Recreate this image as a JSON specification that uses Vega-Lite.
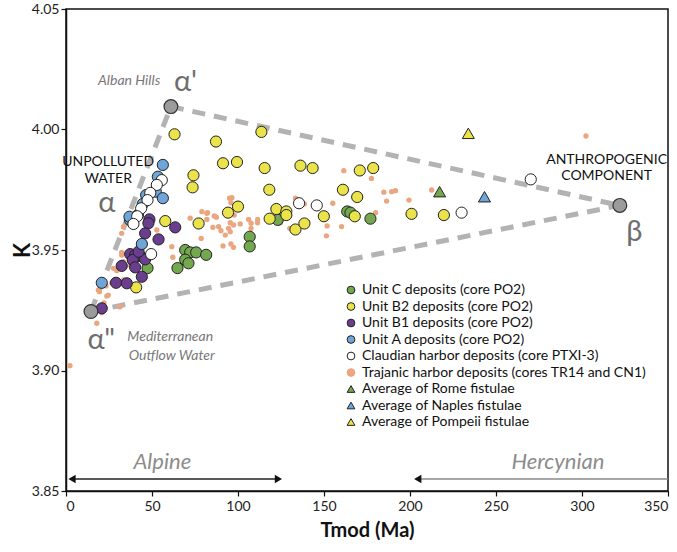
{
  "$schema": "https://vega.github.io/schema/vega-lite/v6.json",
  "width": 602,
  "height": 482,
  "autosize": "none",
  "padding": {"left": 66, "top": 9, "right": 9, "bottom": 61},
  "background": "white",
  "config": {
    "font": "Lato",
    "view": {"stroke": "#111", "strokeWidth": 1.5},
    "axis": {"grid": false, "domainColor": "#111", "domainWidth": 1.5, "tickColor": "#111", "tickSize": 5, "tickWidth": 1.2, "labelFont": "Lato", "labelFontSize": 14, "labelColor": "#222", "titleFont": "Lato", "titleColor": "#111", "titleFontWeight": "bold"},
    "legend": {"labelFont": "Lato", "labelFontSize": 14, "labelColor": "#111", "symbolSize": 60, "symbolStrokeWidth": 1, "rowPadding": 2.5, "labelLimit": 400}
  },
  "datasets": {
    "units": [
      {"series": "Unit C deposits (core PO2)", "x": 69.3, "y": 3.950},
      {"series": "Unit C deposits (core PO2)", "x": 72.2, "y": 3.949},
      {"series": "Unit C deposits (core PO2)", "x": 75.7, "y": 3.949},
      {"series": "Unit C deposits (core PO2)", "x": 81.5, "y": 3.948},
      {"series": "Unit C deposits (core PO2)", "x": 69.3, "y": 3.946},
      {"series": "Unit C deposits (core PO2)", "x": 71.2, "y": 3.9445},
      {"series": "Unit C deposits (core PO2)", "x": 64.8, "y": 3.9425},
      {"series": "Unit C deposits (core PO2)", "x": 106.8, "y": 3.9555},
      {"series": "Unit C deposits (core PO2)", "x": 106.8, "y": 3.9515},
      {"series": "Unit C deposits (core PO2)", "x": 47.4, "y": 3.9425},
      {"series": "Unit C deposits (core PO2)", "x": 123.1, "y": 3.9625},
      {"series": "Unit C deposits (core PO2)", "x": 163.5, "y": 3.966},
      {"series": "Unit C deposits (core PO2)", "x": 165.4, "y": 3.9655},
      {"series": "Unit C deposits (core PO2)", "x": 177.0, "y": 3.963},
      {"series": "Unit B2 deposits (core PO2)", "x": 63.1, "y": 3.998},
      {"series": "Unit B2 deposits (core PO2)", "x": 87.2, "y": 3.995},
      {"series": "Unit B2 deposits (core PO2)", "x": 113.6, "y": 3.999},
      {"series": "Unit B2 deposits (core PO2)", "x": 91.3, "y": 3.986},
      {"series": "Unit B2 deposits (core PO2)", "x": 99.4, "y": 3.9865},
      {"series": "Unit B2 deposits (core PO2)", "x": 115.5, "y": 3.984},
      {"series": "Unit B2 deposits (core PO2)", "x": 136.3, "y": 3.985},
      {"series": "Unit B2 deposits (core PO2)", "x": 143.4, "y": 3.984},
      {"series": "Unit B2 deposits (core PO2)", "x": 170.8, "y": 3.983},
      {"series": "Unit B2 deposits (core PO2)", "x": 178.6, "y": 3.984},
      {"series": "Unit B2 deposits (core PO2)", "x": 74.1, "y": 3.981},
      {"series": "Unit B2 deposits (core PO2)", "x": 73.6, "y": 3.976},
      {"series": "Unit B2 deposits (core PO2)", "x": 118.2, "y": 3.975},
      {"series": "Unit B2 deposits (core PO2)", "x": 161.0, "y": 3.975},
      {"series": "Unit B2 deposits (core PO2)", "x": 169.3, "y": 3.972},
      {"series": "Unit B2 deposits (core PO2)", "x": 100.0, "y": 3.968},
      {"series": "Unit B2 deposits (core PO2)", "x": 94.2, "y": 3.9655},
      {"series": "Unit B2 deposits (core PO2)", "x": 122.3, "y": 3.967},
      {"series": "Unit B2 deposits (core PO2)", "x": 128.1, "y": 3.966},
      {"series": "Unit B2 deposits (core PO2)", "x": 128.1, "y": 3.9645},
      {"series": "Unit B2 deposits (core PO2)", "x": 118.4, "y": 3.963},
      {"series": "Unit B2 deposits (core PO2)", "x": 133.4, "y": 3.9585},
      {"series": "Unit B2 deposits (core PO2)", "x": 138.6, "y": 3.961},
      {"series": "Unit B2 deposits (core PO2)", "x": 77.1, "y": 3.961},
      {"series": "Unit B2 deposits (core PO2)", "x": 57.7, "y": 3.962},
      {"series": "Unit B2 deposits (core PO2)", "x": 40.8, "y": 3.9345},
      {"series": "Unit B2 deposits (core PO2)", "x": 149.9, "y": 3.964},
      {"series": "Unit B2 deposits (core PO2)", "x": 167.9, "y": 3.964},
      {"series": "Unit B2 deposits (core PO2)", "x": 200.9, "y": 3.965},
      {"series": "Unit B2 deposits (core PO2)", "x": 219.7, "y": 3.9645},
      {"series": "Unit B1 deposits (core PO2)", "x": 48.5, "y": 3.9627},
      {"series": "Unit B1 deposits (core PO2)", "x": 47.9, "y": 3.9611},
      {"series": "Unit B1 deposits (core PO2)", "x": 63.5, "y": 3.9594},
      {"series": "Unit B1 deposits (core PO2)", "x": 46.0, "y": 3.9569},
      {"series": "Unit B1 deposits (core PO2)", "x": 53.8, "y": 3.9544},
      {"series": "Unit B1 deposits (core PO2)", "x": 37.3, "y": 3.9483},
      {"series": "Unit B1 deposits (core PO2)", "x": 40.2, "y": 3.9479},
      {"series": "Unit B1 deposits (core PO2)", "x": 43.1, "y": 3.9475},
      {"series": "Unit B1 deposits (core PO2)", "x": 46.0, "y": 3.9461},
      {"series": "Unit B1 deposits (core PO2)", "x": 38.8, "y": 3.9459},
      {"series": "Unit B1 deposits (core PO2)", "x": 32.4, "y": 3.9434},
      {"series": "Unit B1 deposits (core PO2)", "x": 40.2, "y": 3.9428},
      {"series": "Unit B1 deposits (core PO2)", "x": 44.1, "y": 3.9389},
      {"series": "Unit B1 deposits (core PO2)", "x": 29.1, "y": 3.9364},
      {"series": "Unit B1 deposits (core PO2)", "x": 35.3, "y": 3.9362},
      {"series": "Unit B1 deposits (core PO2)", "x": 20.8, "y": 3.9258},
      {"series": "Unit B1 deposits (core PO2)", "x": 42.2, "y": 3.9493},
      {"series": "Unit A deposits (core PO2)", "x": 56.3, "y": 3.9853},
      {"series": "Unit A deposits (core PO2)", "x": 53.4, "y": 3.9804},
      {"series": "Unit A deposits (core PO2)", "x": 52.2, "y": 3.9742},
      {"series": "Unit A deposits (core PO2)", "x": 56.3, "y": 3.9715},
      {"series": "Unit A deposits (core PO2)", "x": 46.6, "y": 3.9728},
      {"series": "Unit A deposits (core PO2)", "x": 44.6, "y": 3.9691},
      {"series": "Unit A deposits (core PO2)", "x": 41.8, "y": 3.9645},
      {"series": "Unit A deposits (core PO2)", "x": 37.3, "y": 3.9624},
      {"series": "Unit A deposits (core PO2)", "x": 20.8, "y": 3.9364},
      {"series": "Unit A deposits (core PO2)", "x": 44.1, "y": 3.9525},
      {"series": "Unit A deposits (core PO2)", "x": 36.9, "y": 3.9638},
      {"series": "Claudian harbor deposits (core PTXI-3)", "x": 55.7, "y": 3.979},
      {"series": "Claudian harbor deposits (core PTXI-3)", "x": 52.8, "y": 3.977},
      {"series": "Claudian harbor deposits (core PTXI-3)", "x": 49.0, "y": 3.9737},
      {"series": "Claudian harbor deposits (core PTXI-3)", "x": 47.4, "y": 3.9707},
      {"series": "Claudian harbor deposits (core PTXI-3)", "x": 43.7, "y": 3.9673},
      {"series": "Claudian harbor deposits (core PTXI-3)", "x": 41.4, "y": 3.964},
      {"series": "Claudian harbor deposits (core PTXI-3)", "x": 39.2, "y": 3.9608},
      {"series": "Claudian harbor deposits (core PTXI-3)", "x": 49.5, "y": 3.9483},
      {"series": "Claudian harbor deposits (core PTXI-3)", "x": 135.5, "y": 3.9694},
      {"series": "Claudian harbor deposits (core PTXI-3)", "x": 145.8, "y": 3.9685},
      {"series": "Claudian harbor deposits (core PTXI-3)", "x": 230.0, "y": 3.9655},
      {"series": "Claudian harbor deposits (core PTXI-3)", "x": 270.2, "y": 3.9793}
    ],
    "trajanic": [
      {"series": "Trajanic harbor deposits (cores TR14 and CN1)", "x": 95.1, "y": 3.9715},
      {"series": "Trajanic harbor deposits (cores TR14 and CN1)", "x": 95.9, "y": 3.9696},
      {"series": "Trajanic harbor deposits (cores TR14 and CN1)", "x": 79.0, "y": 3.9659},
      {"series": "Trajanic harbor deposits (cores TR14 and CN1)", "x": 82.3, "y": 3.9655},
      {"series": "Trajanic harbor deposits (cores TR14 and CN1)", "x": 87.4, "y": 3.9636},
      {"series": "Trajanic harbor deposits (cores TR14 and CN1)", "x": 72.2, "y": 3.9632},
      {"series": "Trajanic harbor deposits (cores TR14 and CN1)", "x": 81.9, "y": 3.9627},
      {"series": "Trajanic harbor deposits (cores TR14 and CN1)", "x": 93.6, "y": 3.9659},
      {"series": "Trajanic harbor deposits (cores TR14 and CN1)", "x": 97.8, "y": 3.9645},
      {"series": "Trajanic harbor deposits (cores TR14 and CN1)", "x": 95.5, "y": 3.9613},
      {"series": "Trajanic harbor deposits (cores TR14 and CN1)", "x": 101.3, "y": 3.9608},
      {"series": "Trajanic harbor deposits (cores TR14 and CN1)", "x": 106.2, "y": 3.9627},
      {"series": "Trajanic harbor deposits (cores TR14 and CN1)", "x": 107.6, "y": 3.9611},
      {"series": "Trajanic harbor deposits (cores TR14 and CN1)", "x": 111.4, "y": 3.9627},
      {"series": "Trajanic harbor deposits (cores TR14 and CN1)", "x": 111.4, "y": 3.9613},
      {"series": "Trajanic harbor deposits (cores TR14 and CN1)", "x": 85.4, "y": 3.9594},
      {"series": "Trajanic harbor deposits (cores TR14 and CN1)", "x": 94.5, "y": 3.959},
      {"series": "Trajanic harbor deposits (cores TR14 and CN1)", "x": 90.1, "y": 3.958},
      {"series": "Trajanic harbor deposits (cores TR14 and CN1)", "x": 95.5, "y": 3.9576},
      {"series": "Trajanic harbor deposits (cores TR14 and CN1)", "x": 92.6, "y": 3.9562},
      {"series": "Trajanic harbor deposits (cores TR14 and CN1)", "x": 107.6, "y": 3.959},
      {"series": "Trajanic harbor deposits (cores TR14 and CN1)", "x": 78.6, "y": 3.9548},
      {"series": "Trajanic harbor deposits (cores TR14 and CN1)", "x": 91.3, "y": 3.9517},
      {"series": "Trajanic harbor deposits (cores TR14 and CN1)", "x": 97.4, "y": 3.9511},
      {"series": "Trajanic harbor deposits (cores TR14 and CN1)", "x": 95.9, "y": 3.9525},
      {"series": "Trajanic harbor deposits (cores TR14 and CN1)", "x": 124.6, "y": 3.9613},
      {"series": "Trajanic harbor deposits (cores TR14 and CN1)", "x": 130.1, "y": 3.959},
      {"series": "Trajanic harbor deposits (cores TR14 and CN1)", "x": 161.5, "y": 3.9829},
      {"series": "Trajanic harbor deposits (cores TR14 and CN1)", "x": 177.6, "y": 3.9797},
      {"series": "Trajanic harbor deposits (cores TR14 and CN1)", "x": 184.8, "y": 3.974},
      {"series": "Trajanic harbor deposits (cores TR14 and CN1)", "x": 189.3, "y": 3.9742},
      {"series": "Trajanic harbor deposits (cores TR14 and CN1)", "x": 191.6, "y": 3.9746},
      {"series": "Trajanic harbor deposits (cores TR14 and CN1)", "x": 186.4, "y": 3.9703},
      {"series": "Trajanic harbor deposits (cores TR14 and CN1)", "x": 199.4, "y": 3.9707},
      {"series": "Trajanic harbor deposits (cores TR14 and CN1)", "x": 155.1, "y": 3.9694},
      {"series": "Trajanic harbor deposits (cores TR14 and CN1)", "x": 133.4, "y": 3.9715},
      {"series": "Trajanic harbor deposits (cores TR14 and CN1)", "x": 138.6, "y": 3.9691},
      {"series": "Trajanic harbor deposits (cores TR14 and CN1)", "x": 180.0, "y": 3.9655},
      {"series": "Trajanic harbor deposits (cores TR14 and CN1)", "x": 140.5, "y": 3.9617},
      {"series": "Trajanic harbor deposits (cores TR14 and CN1)", "x": 151.8, "y": 3.96},
      {"series": "Trajanic harbor deposits (cores TR14 and CN1)", "x": 160.2, "y": 3.9597},
      {"series": "Trajanic harbor deposits (cores TR14 and CN1)", "x": 151.4, "y": 3.9559},
      {"series": "Trajanic harbor deposits (cores TR14 and CN1)", "x": 212.6, "y": 3.9749},
      {"series": "Trajanic harbor deposits (cores TR14 and CN1)", "x": 302.3, "y": 3.9973},
      {"series": "Trajanic harbor deposits (cores TR14 and CN1)", "x": 96.5, "y": 3.9717},
      {"series": "Trajanic harbor deposits (cores TR14 and CN1)", "x": 86.2, "y": 3.9641},
      {"series": "Trajanic harbor deposits (cores TR14 and CN1)", "x": 88.7, "y": 3.9597},
      {"series": "Trajanic harbor deposits (cores TR14 and CN1)", "x": 97.4, "y": 3.9604},
      {"series": "Trajanic harbor deposits (cores TR14 and CN1)", "x": 32.4, "y": 3.9569},
      {"series": "Trajanic harbor deposits (cores TR14 and CN1)", "x": 35.1, "y": 3.9624},
      {"series": "Trajanic harbor deposits (cores TR14 and CN1)", "x": 52.8, "y": 3.9583},
      {"series": "Trajanic harbor deposits (cores TR14 and CN1)", "x": 35.7, "y": 3.9622},
      {"series": "Trajanic harbor deposits (cores TR14 and CN1)", "x": 32.4, "y": 3.949},
      {"series": "Trajanic harbor deposits (cores TR14 and CN1)", "x": 33.4, "y": 3.9452},
      {"series": "Trajanic harbor deposits (cores TR14 and CN1)", "x": 27.6, "y": 3.9424},
      {"series": "Trajanic harbor deposits (cores TR14 and CN1)", "x": 29.5, "y": 3.9414},
      {"series": "Trajanic harbor deposits (cores TR14 and CN1)", "x": 23.3, "y": 3.9351},
      {"series": "Trajanic harbor deposits (cores TR14 and CN1)", "x": 18.8, "y": 3.9334},
      {"series": "Trajanic harbor deposits (cores TR14 and CN1)", "x": 24.6, "y": 3.9313},
      {"series": "Trajanic harbor deposits (cores TR14 and CN1)", "x": 33.4, "y": 3.9376},
      {"series": "Trajanic harbor deposits (cores TR14 and CN1)", "x": 31.4, "y": 3.9265},
      {"series": "Trajanic harbor deposits (cores TR14 and CN1)", "x": 20.8, "y": 3.924},
      {"series": "Trajanic harbor deposits (cores TR14 and CN1)", "x": 17.9, "y": 3.9196},
      {"series": "Trajanic harbor deposits (cores TR14 and CN1)", "x": 2.3, "y": 3.902},
      {"series": "Trajanic harbor deposits (cores TR14 and CN1)", "x": 61.5, "y": 3.9514},
      {"series": "Trajanic harbor deposits (cores TR14 and CN1)", "x": 62.1, "y": 3.947},
      {"series": "Trajanic harbor deposits (cores TR14 and CN1)", "x": 54.7, "y": 3.9553},
      {"series": "Trajanic harbor deposits (cores TR14 and CN1)", "x": 46.0, "y": 3.9528},
      {"series": "Trajanic harbor deposits (cores TR14 and CN1)", "x": 37.3, "y": 3.9438},
      {"series": "Trajanic harbor deposits (cores TR14 and CN1)", "x": 26.6, "y": 3.9364},
      {"series": "Trajanic harbor deposits (cores TR14 and CN1)", "x": 19.4, "y": 3.9327},
      {"series": "Trajanic harbor deposits (cores TR14 and CN1)", "x": 23.7, "y": 3.9309},
      {"series": "Trajanic harbor deposits (cores TR14 and CN1)", "x": 22.1, "y": 3.9281},
      {"series": "Trajanic harbor deposits (cores TR14 and CN1)", "x": 31.0, "y": 3.9265},
      {"series": "Trajanic harbor deposits (cores TR14 and CN1)", "x": 32.4, "y": 3.9479},
      {"series": "Trajanic harbor deposits (cores TR14 and CN1)", "x": 33.4, "y": 3.9597},
      {"series": "Trajanic harbor deposits (cores TR14 and CN1)", "x": 81.9, "y": 3.9652}
    ],
    "averages": [
      {"series": "Average of Rome fistulae", "x": 217.2, "y": 3.9742},
      {"series": "Average of Naples fistulae", "x": 243.3, "y": 3.9721},
      {"series": "Average of Pompeii fistulae", "x": 233.9, "y": 3.9984}
    ],
    "endmembers": [
      {"name": "α'", "x": 61.0, "y": 4.0095},
      {"name": "α''", "x": 14.5, "y": 3.9245},
      {"name": "β", "x": 322.0, "y": 3.9685}
    ],
    "mixlines": [
      {"x": 14.5, "y": 3.9245, "x2": 61.0, "y2": 4.0095},
      {"x": 61.0, "y": 4.0095, "x2": 322.0, "y2": 3.9685},
      {"x": 14.5, "y": 3.9245, "x2": 322.0, "y2": 3.9685}
    ],
    "greek": [
      {"label": "α'", "x": 69.5, "y": 4.0198},
      {"label": "α", "x": 23.7, "y": 3.9695},
      {"label": "α\"", "x": 20.5, "y": 3.9127},
      {"label": "β", "x": 330.4, "y": 3.9576}
    ],
    "grayitalic": [
      {"label": "Alban Hills", "x": 36.7, "y": 4.0201},
      {"label": "Mediterranean", "x": 60.6, "y": 3.9138},
      {"label": "Outflow Water", "x": 61.5, "y": 3.9062}
    ],
    "blacklabels": [
      {"label": "UNPOLLUTED", "x": 24.5, "y": 3.9865},
      {"label": "WATER", "x": 24.5, "y": 3.9795},
      {"label": "ANTHROPOGENIC", "x": 314.3, "y": 3.9873},
      {"label": "COMPONENT", "x": 314.3, "y": 3.9807}
    ],
    "orogeny": [
      {"label": "Alpine", "x": 56.0, "y": 3.862},
      {"label": "Hercynian", "x": 286.0, "y": 3.862}
    ],
    "arrowlines": [
      {"part": "Alpine", "x": 3.0, "y": 3.855, "x2": 124.0, "y2": 3.855},
      {"part": "Hercynian", "x": 204.0, "y": 3.855, "x2": 350.0, "y2": 3.855}
    ],
    "headsleft": [
      {"x": 3.5, "y": 3.855},
      {"x": 204.5, "y": 3.855}
    ],
    "headsright": [
      {"x": 123.5, "y": 3.855}
    ]
  },
  "encoding": {
    "x": {"field": "x", "type": "quantitative", "scale": {"domain": [0, 350], "nice": false, "zero": false}, "axis": {"values": [0, 50, 100, 150, 200, 250, 300, 350], "title": "Tmod (Ma)", "titleFontSize": 20, "titlePadding": 7, "labelPadding": 3}},
    "y": {"field": "y", "type": "quantitative", "scale": {"domain": [3.85, 4.05], "nice": false, "zero": false}, "axis": {"values": [3.85, 3.9, 3.95, 4.0, 4.05], "format": ".2f", "title": "K", "titleFontSize": 22, "titleX": -44, "titleY": 241, "titleAngle": -90, "titleAlign": "center", "titleBaseline": "middle", "labelPadding": 2}}
  },
  "layer": [
    {
      "data": {"name": "mixlines"},
      "mark": {"type": "rule", "color": "#b3b3b3", "strokeWidth": 5, "strokeDash": [13, 9]},
      "encoding": {"x2": {"field": "x2"}, "y2": {"field": "y2"}}
    },
    {
      "data": {"name": "arrowlines"},
      "mark": {"type": "rule", "strokeWidth": 1.5},
      "encoding": {"x2": {"field": "x2"}, "y2": {"field": "y2"}, "color": {"field": "part", "type": "nominal", "scale": {"domain": ["Alpine", "Hercynian"], "range": ["#222222", "#8a8a8a"]}, "legend": null}}
    },
    {
      "data": {"name": "headsleft"},
      "mark": {"type": "point", "shape": "triangle-left", "filled": true, "opacity": 1, "size": 70, "fill": "#111", "strokeWidth": 0},
      "encoding": {}
    },
    {
      "data": {"name": "headsright"},
      "mark": {"type": "point", "shape": "triangle-right", "filled": true, "opacity": 1, "size": 70, "fill": "#111", "strokeWidth": 0},
      "encoding": {}
    },
    {
      "data": {"name": "trajanic"},
      "mark": {"type": "point", "filled": true, "opacity": 1, "size": 28, "strokeWidth": 0},
      "encoding": {
        "fill": {"field": "series", "type": "nominal", "scale": {"domain": ["Unit C deposits (core PO2)", "Unit B2 deposits (core PO2)", "Unit B1 deposits (core PO2)", "Unit A deposits (core PO2)", "Claudian harbor deposits (core PTXI-3)", "Trajanic harbor deposits (cores TR14 and CN1)", "Average of Rome fistulae", "Average of Naples fistulae", "Average of Pompeii fistulae"], "range": ["#73a84f", "#ebe34a", "#6a3d8e", "#6fa5d9", "#ffffff", "#eba57f", "#73a84f", "#6fa5d9", "#ebe34a"]}, "legend": {"title": null, "orient": "none", "legendX": 278, "legendY": 274}},
        "stroke": {"field": "series", "type": "nominal", "scale": {"domain": ["Unit C deposits (core PO2)", "Unit B2 deposits (core PO2)", "Unit B1 deposits (core PO2)", "Unit A deposits (core PO2)", "Claudian harbor deposits (core PTXI-3)", "Trajanic harbor deposits (cores TR14 and CN1)", "Average of Rome fistulae", "Average of Naples fistulae", "Average of Pompeii fistulae"], "range": ["#222222", "#222222", "#222222", "#222222", "#222222", "#eba57f", "#222222", "#222222", "#222222"]}, "legend": {"title": null, "orient": "none", "legendX": 278, "legendY": 274}},
        "shape": {"field": "series", "type": "nominal", "scale": {"domain": ["Unit C deposits (core PO2)", "Unit B2 deposits (core PO2)", "Unit B1 deposits (core PO2)", "Unit A deposits (core PO2)", "Claudian harbor deposits (core PTXI-3)", "Trajanic harbor deposits (cores TR14 and CN1)", "Average of Rome fistulae", "Average of Naples fistulae", "Average of Pompeii fistulae"], "range": ["circle", "circle", "circle", "circle", "circle", "circle", "triangle-up", "triangle-up", "triangle-up"]}, "legend": {"title": null, "orient": "none", "legendX": 278, "legendY": 274}}
      }
    },
    {
      "data": {"name": "units"},
      "mark": {"type": "point", "filled": true, "opacity": 1, "size": 125, "strokeWidth": 1},
      "encoding": {
        "fill": {"field": "series", "type": "nominal", "scale": {"domain": ["Unit C deposits (core PO2)", "Unit B2 deposits (core PO2)", "Unit B1 deposits (core PO2)", "Unit A deposits (core PO2)", "Claudian harbor deposits (core PTXI-3)", "Trajanic harbor deposits (cores TR14 and CN1)", "Average of Rome fistulae", "Average of Naples fistulae", "Average of Pompeii fistulae"], "range": ["#73a84f", "#ebe34a", "#6a3d8e", "#6fa5d9", "#ffffff", "#eba57f", "#73a84f", "#6fa5d9", "#ebe34a"]}, "legend": {"title": null, "orient": "none", "legendX": 278, "legendY": 274}},
        "stroke": {"field": "series", "type": "nominal", "scale": {"domain": ["Unit C deposits (core PO2)", "Unit B2 deposits (core PO2)", "Unit B1 deposits (core PO2)", "Unit A deposits (core PO2)", "Claudian harbor deposits (core PTXI-3)", "Trajanic harbor deposits (cores TR14 and CN1)", "Average of Rome fistulae", "Average of Naples fistulae", "Average of Pompeii fistulae"], "range": ["#222222", "#222222", "#222222", "#222222", "#222222", "#eba57f", "#222222", "#222222", "#222222"]}, "legend": {"title": null, "orient": "none", "legendX": 278, "legendY": 274}},
        "shape": {"field": "series", "type": "nominal", "scale": {"domain": ["Unit C deposits (core PO2)", "Unit B2 deposits (core PO2)", "Unit B1 deposits (core PO2)", "Unit A deposits (core PO2)", "Claudian harbor deposits (core PTXI-3)", "Trajanic harbor deposits (cores TR14 and CN1)", "Average of Rome fistulae", "Average of Naples fistulae", "Average of Pompeii fistulae"], "range": ["circle", "circle", "circle", "circle", "circle", "circle", "triangle-up", "triangle-up", "triangle-up"]}, "legend": {"title": null, "orient": "none", "legendX": 278, "legendY": 274}}
      }
    },
    {
      "data": {"name": "averages"},
      "mark": {"type": "point", "filled": true, "opacity": 1, "size": 145, "strokeWidth": 1},
      "encoding": {
        "fill": {"field": "series", "type": "nominal", "scale": {"domain": ["Unit C deposits (core PO2)", "Unit B2 deposits (core PO2)", "Unit B1 deposits (core PO2)", "Unit A deposits (core PO2)", "Claudian harbor deposits (core PTXI-3)", "Trajanic harbor deposits (cores TR14 and CN1)", "Average of Rome fistulae", "Average of Naples fistulae", "Average of Pompeii fistulae"], "range": ["#73a84f", "#ebe34a", "#6a3d8e", "#6fa5d9", "#ffffff", "#eba57f", "#73a84f", "#6fa5d9", "#ebe34a"]}, "legend": {"title": null, "orient": "none", "legendX": 278, "legendY": 274}},
        "stroke": {"field": "series", "type": "nominal", "scale": {"domain": ["Unit C deposits (core PO2)", "Unit B2 deposits (core PO2)", "Unit B1 deposits (core PO2)", "Unit A deposits (core PO2)", "Claudian harbor deposits (core PTXI-3)", "Trajanic harbor deposits (cores TR14 and CN1)", "Average of Rome fistulae", "Average of Naples fistulae", "Average of Pompeii fistulae"], "range": ["#222222", "#222222", "#222222", "#222222", "#222222", "#eba57f", "#222222", "#222222", "#222222"]}, "legend": {"title": null, "orient": "none", "legendX": 278, "legendY": 274}},
        "shape": {"field": "series", "type": "nominal", "scale": {"domain": ["Unit C deposits (core PO2)", "Unit B2 deposits (core PO2)", "Unit B1 deposits (core PO2)", "Unit A deposits (core PO2)", "Claudian harbor deposits (core PTXI-3)", "Trajanic harbor deposits (cores TR14 and CN1)", "Average of Rome fistulae", "Average of Naples fistulae", "Average of Pompeii fistulae"], "range": ["circle", "circle", "circle", "circle", "circle", "circle", "triangle-up", "triangle-up", "triangle-up"]}, "legend": {"title": null, "orient": "none", "legendX": 278, "legendY": 274}}
      }
    },
    {
      "data": {"name": "endmembers"},
      "mark": {"type": "point", "filled": true, "opacity": 1, "size": 190, "fill": "#9b9b9b", "stroke": "#333333", "strokeWidth": 1.2},
      "encoding": {}
    },
    {
      "data": {"name": "greek"},
      "mark": {"type": "text", "font": "Lato", "fontSize": 29, "color": "#6e6e6e", "align": "center", "baseline": "middle"},
      "encoding": {"text": {"field": "label"}}
    },
    {
      "data": {"name": "grayitalic"},
      "mark": {"type": "text", "font": "Lato", "fontSize": 14, "fontStyle": "italic", "color": "#777777", "align": "center", "baseline": "middle"},
      "encoding": {"text": {"field": "label"}}
    },
    {
      "data": {"name": "blacklabels"},
      "mark": {"type": "text", "font": "Lato", "fontSize": 14, "color": "#111111", "align": "center", "baseline": "middle"},
      "encoding": {"text": {"field": "label"}}
    },
    {
      "data": {"name": "orogeny"},
      "mark": {"type": "text", "font": "Lato", "fontSize": 22, "fontStyle": "italic", "color": "#8c8c8c", "align": "center", "baseline": "middle"},
      "encoding": {"text": {"field": "label"}}
    }
  ]
}
